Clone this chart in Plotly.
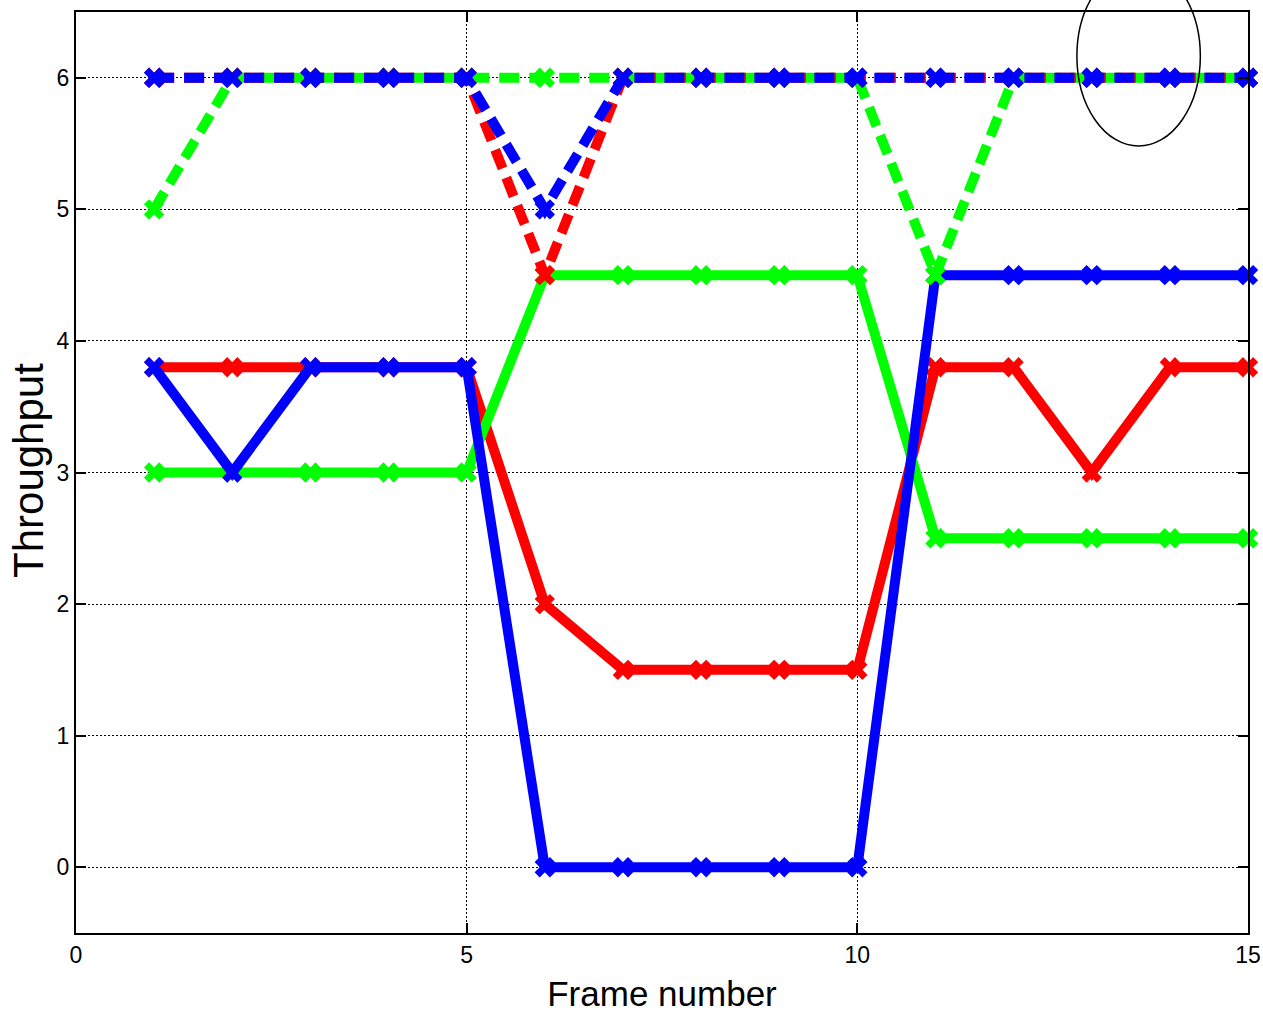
import plotly.graph_objects as go

frames = list(range(1, 16))
red_solid = [3.8, 3.8, 3.8, 3.8, 3.8, 2, 1.5, 1.5, 1.5, 1.5, 3.8, 3.8, 3, 3.8, 3.8]
green_solid = [3, 3, 3, 3, 3, 4.5, 4.5, 4.5, 4.5, 4.5, 2.5, 2.5, 2.5, 2.5, 2.5]
blue_solid = [3.8, 3, 3.8, 3.8, 3.8, 0, 0, 0, 0, 0, 4.5, 4.5, 4.5, 4.5, 4.5]
green_dashed = [5, 6, 6, 6, 6, 6, 6, 6, 6, 6, 4.5, 6, 6, 6, 6]
red_dashed = [6, 6, 6, 6, 6, 4.5, 6, 6, 6, 6, 6, 6, 6, 6, 6]
blue_dashed = [6, 6, 6, 6, 6, 5, 6, 6, 6, 6, 6, 6, 6, 6, 6]

x_ticks = [0, 5, 10, 15]
y_ticks = [0, 1, 2, 3, 4, 5, 6]

RED = "#ff0000"
GREEN = "#00ff00"
BLUE = "#0000ff"

series = [
    (red_solid, RED, "solid"),
    (green_solid, GREEN, "solid"),
    (blue_solid, BLUE, "solid"),
    (green_dashed, GREEN, "20px,10px"),
    (red_dashed, RED, "20px,10px"),
    (blue_dashed, BLUE, "20px,10px"),
]

fig = go.Figure()
for ys, col, dash in series:
    fig.add_trace(go.Scatter(
        x=frames, y=ys, mode="lines+markers",
        line=dict(color=col, width=10, dash=dash),
        marker=dict(symbol="x", size=18, color=col, line=dict(width=0)),
        showlegend=False, cliponaxis=False,
    ))

# ellipse annotation (extends above plot area, as in reference)
fig.add_shape(type="circle", xref="x", yref="paper",
              x0=12.81, x1=14.39, y0=0.8545, y1=1.0495,
              line=dict(color="black", width=1.5))

FONT = "Liberation Sans, Arial, sans-serif"
font_tick = dict(family=FONT, size=23, color="black")

# y-axis title as a rotated annotation for precise placement
fig.add_annotation(
    text="Throughput", xref="paper", yref="paper",
    x=-0.041, y=0.5027, xanchor="center", yanchor="middle",
    textangle=-90, showarrow=False,
    font=dict(family=FONT, size=42, color="black"),
)

fig.update_layout(
    width=1263, height=1018,
    margin=dict(l=76, r=15, t=12, b=85, autoexpand=False),
    paper_bgcolor="white", plot_bgcolor="white",
    xaxis=dict(
        range=[0, 15], tickvals=x_ticks, ticktext=[str(v) for v in x_ticks],
        showgrid=True, gridcolor="black", griddash="2px,2px", gridwidth=1,
        zeroline=False, showline=True, linecolor="black", linewidth=2, mirror="ticks",
        ticks="inside", ticklen=10, tickcolor="black", tickwidth=1.5,
        tickfont=font_tick, automargin=False, ticklabeloverflow="allow",
        title=dict(text="Frame number", font=dict(family=FONT, size=35, color="black")),
    ),
    yaxis=dict(
        range=[-0.5, 6.5], tickvals=y_ticks, ticktext=[str(v) for v in y_ticks],
        showgrid=True, gridcolor="black", griddash="2px,2px", gridwidth=1,
        zeroline=False, showline=True, linecolor="black", linewidth=2, mirror="ticks",
        ticks="inside", ticklen=10, tickcolor="black", tickwidth=1.5,
        tickfont=font_tick, automargin=False, ticklabeloverflow="allow",
    ),
)

fig.write_html(
    "out.html",
    config={"displayModeBar": False},
    post_script="document.body.style.margin='0';document.body.style.overflow='hidden';document.documentElement.style.overflow='hidden';",
)
